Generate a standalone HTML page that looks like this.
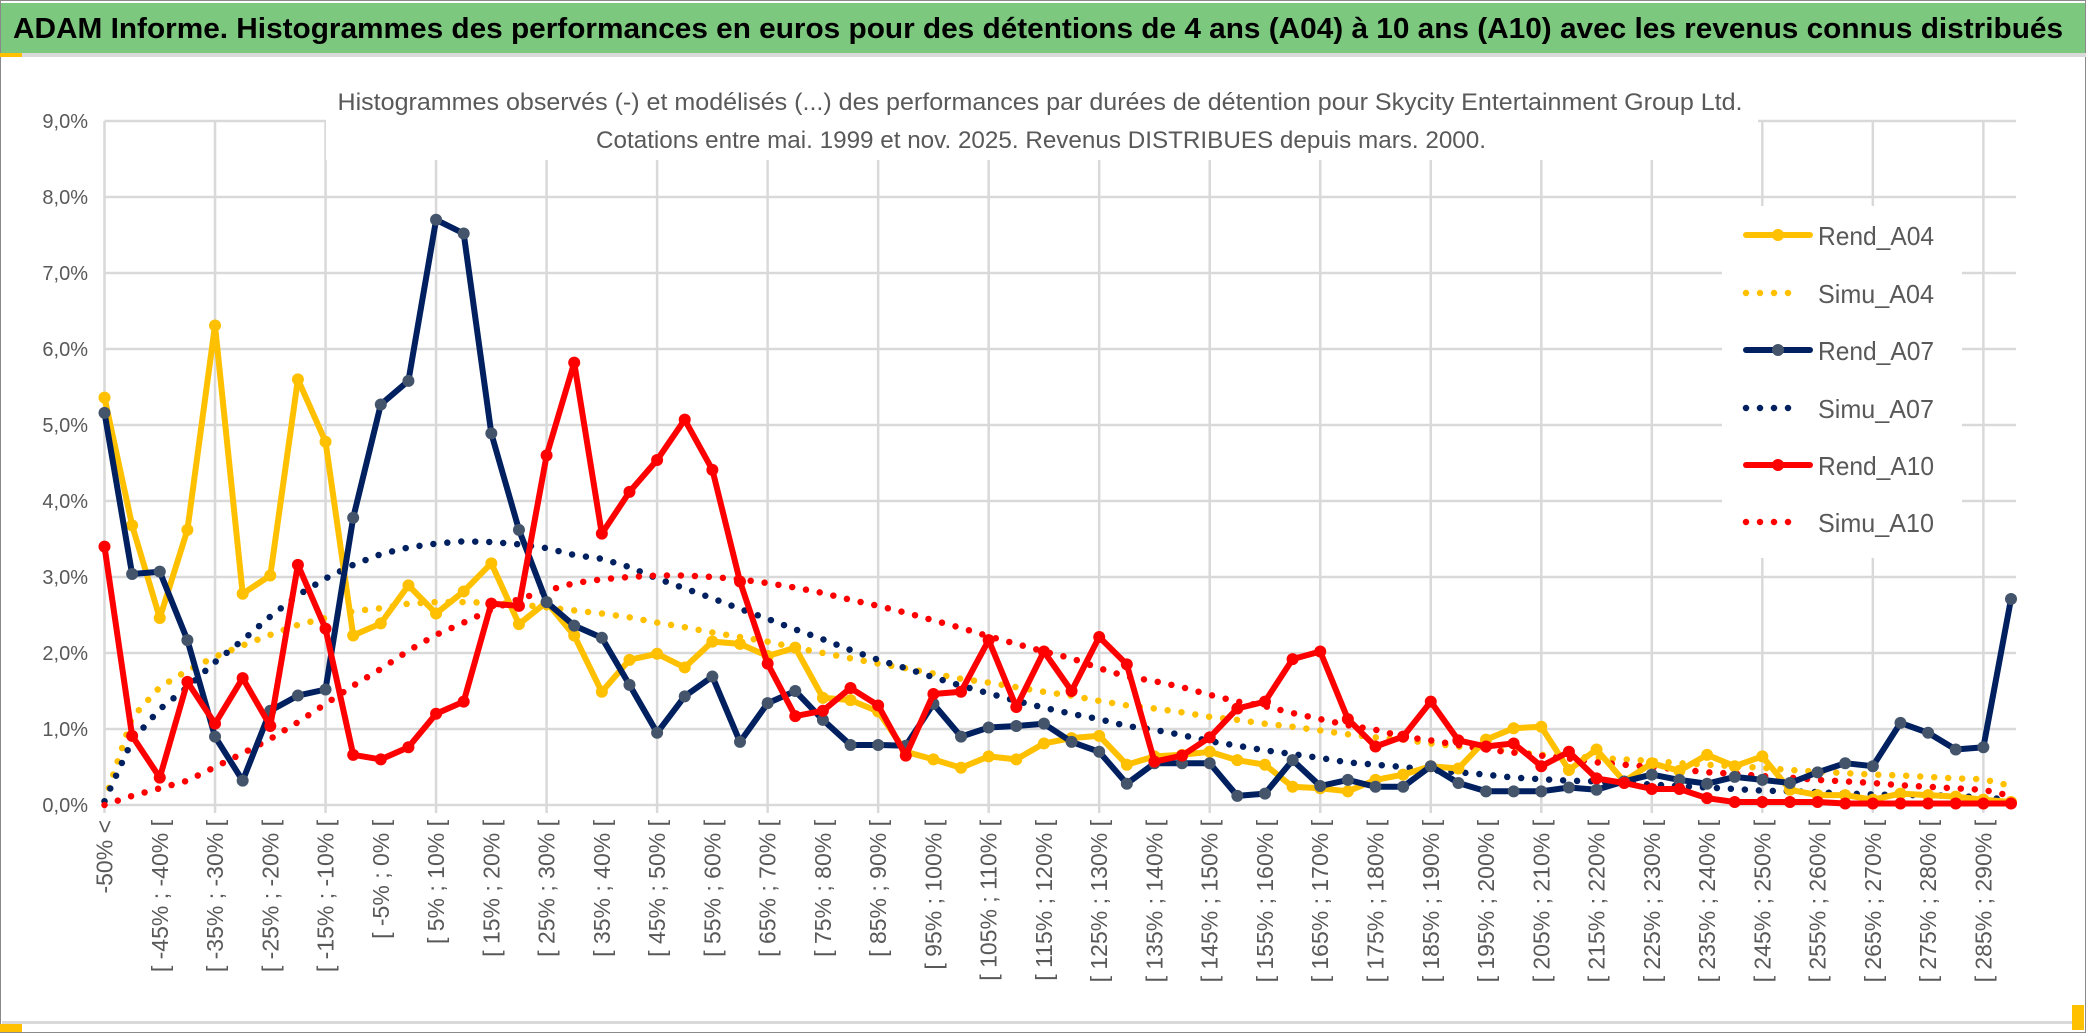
<!DOCTYPE html>
<html><head><meta charset="utf-8">
<style>
html,body{margin:0;padding:0;background:#fff;}
svg{display:block;font-family:"Liberation Sans",sans-serif;}
</style></head>
<body>
<svg id="chart" width="2086" height="1033" viewBox="0 0 2086 1033" xmlns="http://www.w3.org/2000/svg">
  <rect x="0" y="0" width="2086" height="1033" fill="#fff"/>
  <rect x="0.5" y="0.5" width="2085" height="1032" fill="none" stroke="#8a8a8a"/>
  <rect x="1" y="3" width="2084" height="50" fill="#7dc87f"/>
  <text x="13" y="38" font-size="29" font-weight="bold" fill="#000" textLength="2050" lengthAdjust="spacingAndGlyphs">ADAM Informe. Histogrammes des performances en euros pour des détentions de 4 ans (A04) à 10 ans (A10) avec les revenus connus distribués</text>
  <rect x="0" y="53" width="2086" height="4" fill="#d9d9d9"/>
  <rect x="0" y="53" width="22" height="4" fill="#ffc000"/>
  <rect x="0" y="1024" width="22" height="8" fill="#ffc000"/>
  <rect x="2072" y="1005" width="12" height="25" fill="#ffc000"/>
  <rect x="2" y="1021" width="2070" height="3" fill="#d9d9d9"/>
  <g id="grid"></g>
  <rect x="326" y="78" width="1432" height="82" fill="#fff"/>
  <text x="1040" y="110" font-size="24" fill="#595959" text-anchor="middle" textLength="1405" lengthAdjust="spacingAndGlyphs">Histogrammes observés (-) et modélisés (...) des performances par durées de détention pour Skycity Entertainment Group Ltd.</text>
  <text x="1041" y="148" font-size="24" fill="#595959" text-anchor="middle" textLength="890" lengthAdjust="spacingAndGlyphs">Cotations entre mai. 1999 et nov. 2025. Revenus DISTRIBUES depuis mars. 2000.</text>
  <g id="yaxis"></g>
  <g id="xaxis"></g>
  <g id="series"></g>
  <g id="legend"></g>
</svg>
<script>
const categoryLowerBounds = [];
for (let i = 1; i < 70; i++) categoryLowerBounds.push(-55 + 5 * i);
const yTicks = [0,1,2,3,4,5,6,7,8,9];
const rendA04 = [5.36,3.68,2.46,3.62,6.31,2.78,3.02,5.60,4.78,2.23,2.39,2.89,2.52,2.81,3.18,2.38,2.67,2.23,
1.49,1.91,1.99,1.81,2.15,2.12,1.96,2.07,1.41,1.38,1.23,0.70,0.60,0.49,0.64,0.60,0.81,0.88,
0.91,0.53,0.64,0.66,0.70,0.59,0.53,0.24,0.22,0.18,0.33,0.40,0.51,0.48,0.86,1.01,1.03,
0.46,0.73,0.31,0.55,0.45,0.66,0.51,0.64,0.20,0.13,0.13,0.07,0.15,0.13,0.11,0.07,0.04];
const rendA07 = [5.16,3.04,3.07,2.17,0.90,0.32,1.24,1.44,1.52,3.78,5.27,5.58,7.70,7.52,4.89,3.62,2.67,2.36,
2.20,1.58,0.95,1.43,1.69,0.83,1.34,1.50,1.12,0.79,0.79,0.78,1.33,0.90,1.02,1.04,1.07,0.83,
0.70,0.28,0.55,0.55,0.55,0.12,0.15,0.59,0.25,0.33,0.24,0.24,0.51,0.29,0.18,0.18,0.18,
0.23,0.20,0.31,0.40,0.33,0.28,0.37,0.33,0.29,0.43,0.55,0.51,1.08,0.95,0.73,0.76,2.71];
const rendA10 = [3.40,0.91,0.36,1.62,1.07,1.67,1.04,3.16,2.32,0.66,0.60,0.76,1.20,1.36,2.65,2.62,4.60,5.82,
3.57,4.12,4.54,5.07,4.41,2.94,1.86,1.17,1.24,1.54,1.31,0.65,1.46,1.49,2.17,1.29,2.02,1.50,
2.21,1.85,0.57,0.65,0.89,1.27,1.36,1.92,2.02,1.13,0.77,0.90,1.36,0.85,0.77,0.81,0.51,
0.70,0.35,0.29,0.21,0.21,0.09,0.04,0.04,0.04,0.04,0.02,0.02,0.02,0.02,0.02,0.02,0.02];
const simuA04 = [0.05,1.15,1.55,1.77,1.95,2.10,2.24,2.37,2.46,2.55,2.59,2.65,2.67,2.67,2.66,2.64,2.60,2.56,
2.52,2.47,2.40,2.34,2.27,2.21,2.15,2.07,2.00,1.93,1.86,1.80,1.73,1.66,1.61,1.55,1.49,1.44,
1.37,1.31,1.27,1.22,1.16,1.12,1.07,1.03,0.98,0.93,0.89,0.86,0.81,0.77,0.74,0.70,0.66,
0.64,0.62,0.60,0.58,0.55,0.53,0.51,0.49,0.46,0.44,0.42,0.40,0.39,0.37,0.35,0.34,0.25];
const simuA07 = [0.05,0.85,1.26,1.55,1.88,2.17,2.48,2.76,2.98,3.16,3.30,3.39,3.44,3.47,3.46,3.43,3.38,3.29,
3.24,3.13,2.98,2.85,2.72,2.58,2.45,2.31,2.18,2.04,1.91,1.80,1.68,1.57,1.47,1.37,1.28,1.20,
1.13,1.04,0.99,0.92,0.84,0.78,0.72,0.67,0.62,0.56,0.53,0.50,0.46,0.43,0.40,0.36,0.34,
0.32,0.31,0.29,0.27,0.25,0.23,0.21,0.19,0.18,0.17,0.15,0.14,0.13,0.13,0.12,0.10,0.07];
const simuA10 = [0.00,0.12,0.22,0.32,0.50,0.68,0.87,1.09,1.33,1.57,1.79,2.03,2.24,2.40,2.57,2.71,2.82,2.92,
2.97,3.00,3.02,3.02,3.00,2.97,2.92,2.86,2.79,2.70,2.62,2.53,2.43,2.33,2.22,2.12,2.02,1.93,
1.80,1.69,1.63,1.55,1.45,1.36,1.30,1.21,1.13,1.05,0.99,0.90,0.85,0.79,0.73,0.69,0.65,
0.61,0.56,0.53,0.50,0.47,0.43,0.41,0.38,0.36,0.33,0.31,0.29,0.26,0.24,0.22,0.20,0.12];

const NS = "http://www.w3.org/2000/svg";
const N = rendA04.length;
const X0 = 104.5, X1 = 2011, Y0 = 805, Y9 = 121, YMAX = 9;
function xs(i){ return X0 + (X1 - X0) * i / (N - 1); }
function ys(v){ return Y0 - (Y0 - Y9) * v / YMAX; }
function mk(tag, attrs, parent){
  const e = document.createElementNS(NS, tag);
  for (const k in attrs) e.setAttribute(k, attrs[k]);
  parent.appendChild(e);
  return e;
}
function catLabel(i){
  if (i === 0) return "-50% <";
  const lo = categoryLowerBounds[i - 1];
  return "[ " + lo + "% ; " + (lo + 5) + "% [";
}
const grid = document.getElementById('grid');
yTicks.forEach(t => {
  const l = mk('line', {x1: X0, x2: 2016, y1: ys(t), y2: ys(t), stroke: '#d9d9d9', 'stroke-width': 2.5}, grid);
  
  
});
for (let i = 0; i < N; i += 4) {
  const l = mk('line', {x1: xs(i), x2: xs(i), y1: Y9, y2: Y0 + 8, stroke: '#d9d9d9', 'stroke-width': 2.5}, grid);
  
  
}
const yaxis = document.getElementById('yaxis');
yTicks.forEach(t => {
  const tx = mk('text', {x: 88, y: ys(t) + 7, 'font-size': 20, fill: '#595959', 'text-anchor': 'end'}, yaxis);
  tx.textContent = t.toFixed(1).replace('.', ',') + '%';
  
  
});
const xaxis = document.getElementById('xaxis');
for (let i = 0; i < N; i += 2) {
  const x = xs(i) + 8, y = 820;
  const tx = mk('text', {x: x, y: y, 'font-size': 23, fill: '#595959', 'text-anchor': 'end', transform: 'rotate(-90 ' + x + ' ' + y + ')'}, xaxis);
  tx.textContent = catLabel(i);
  
  
}
const series = document.getElementById('series');
function pts(arr){ return arr.map((v, i) => xs(i).toFixed(1) + ',' + ys(v).toFixed(1)).join(' '); }
function dotted(arr, color, name){
  const p = mk('polyline', {points: pts(arr), fill: 'none', stroke: color, 'stroke-width': 6.5, 'stroke-linecap': 'round', 'stroke-dasharray': '0 14'}, series);
  
  
}
function solid(arr, color, mcolor, name){
  const g = mk('g', {}, series);
  
  
  const p = mk('polyline', {points: pts(arr), fill: 'none', stroke: color, 'stroke-width': 6, 'stroke-linejoin': 'round'}, g);
  
  
  arr.forEach((v, i) => {
    const c = mk('circle', {cx: xs(i), cy: ys(v), r: 6, fill: mcolor}, g);
    
    
  });
}
dotted(simuA04, '#ffc000', 'simu-a04-line');
dotted(simuA07, '#002060', 'simu-a07-line');
dotted(simuA10, '#ff0000', 'simu-a10-line');
solid(rendA04, '#ffc000', '#ffc000', 'rend-a04-series');
solid(rendA07, '#002060', '#44546a', 'rend-a07-series');
solid(rendA10, '#ff0000', '#ff0000', 'rend-a10-series');

const legend = document.getElementById('legend');
const lbg = mk('rect', {x: 1722, y: 206, width: 240, height: 352, fill: '#fff'}, legend);


const entries = [
  ['Rend_A04', '#ffc000', '#ffc000', false],
  ['Simu_A04', '#ffc000', null, true],
  ['Rend_A07', '#002060', '#44546a', false],
  ['Simu_A07', '#002060', null, true],
  ['Rend_A10', '#ff0000', '#ff0000', false],
  ['Simu_A10', '#ff0000', null, true]
];
const legendY = [235, 293, 350, 408, 465, 522];
entries.forEach((e, k) => {
  const y = legendY[k];
  const g = mk('g', {}, legend);
  
  
  if (e[3]) {
    mk('line', {x1: 1746, x2: 1800, y1: y, y2: y, stroke: e[1], 'stroke-width': 6.5, 'stroke-linecap': 'round', 'stroke-dasharray': '0 14'}, g);
  } else {
    mk('line', {x1: 1746, x2: 1810, y1: y, y2: y, stroke: e[1], 'stroke-width': 6, 'stroke-linecap': 'round'}, g);
    mk('circle', {cx: 1778, cy: y, r: 6, fill: e[2]}, g);
  }
  const t = mk('text', {x: 1818, y: y + 10, 'font-size': 26, fill: '#595959', textLength: 116, lengthAdjust: 'spacingAndGlyphs'}, g);
  t.textContent = e[0];
});
</script>
</body></html>
